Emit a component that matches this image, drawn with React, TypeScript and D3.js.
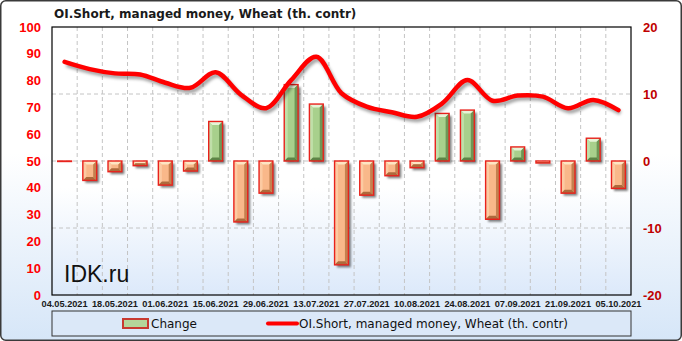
import React from 'react';
import * as d3 from 'd3';

const dates = [
  '04.05.2021', '11.05.2021', '18.05.2021', '25.05.2021', '01.06.2021', '08.06.2021',
  '15.06.2021', '22.06.2021', '29.06.2021', '06.07.2021', '13.07.2021', '20.07.2021',
  '27.07.2021', '03.08.2021', '10.08.2021', '17.08.2021', '24.08.2021', '31.08.2021',
  '07.09.2021', '14.09.2021', '21.09.2021', '28.09.2021', '05.10.2021',
];
const changeValues = [
  0, -2.9, -1.6, -0.7, -3.6, -1.5, 5.9, -9.1, -4.8, 11.4, 8.5, -15.5,
  -5.1, -2.2, -1.0, 7.1, 7.6, -8.7, 2.1, -0.3, -4.8, 3.4, -4.1,
];
const oiShort = [
  87.0, 84.3, 82.7, 82.3, 79.2, 77.3, 83.1, 74.8, 69.7, 80.2, 88.9, 75.3,
  70.3, 68.2, 66.5, 71.5, 80.2, 72.5, 74.4, 74.0, 69.7, 72.8, 69.0,
];
const leftTicks = [0, 10, 20, 30, 40, 50, 60, 70, 80, 90, 100];
const rightTicks = [-20, -10, 0, 10, 20];
const xLabels = dates.filter((_, i) => i % 2 === 0);
const title = 'OI.Short, managed money, Wheat (th. contr)';
const legendBar = 'Change';
const legendLine = 'OI.Short, managed money, Wheat (th. contr)';

const W = 682;
const H = 341;
const PL = 52, PR = 631, PT = 27, PB = 295;

export default function App() {
  const x = d3.scaleBand<string>().domain(dates).range([PL, PR]);
  const yL = d3.scaleLinear().domain([0, 100]).range([PB, PT]);
  const yR = d3.scaleLinear().domain([-20, 20]).range([PB, PT]);
  const bw = x.bandwidth() * 0.55;
  const cx = (d: string) => (x(d) as number) + x.bandwidth() / 2;

  const linePath = d3
    .line<number>()
    .x((_, i) => cx(dates[i]))
    .y((d) => yL(d))
    .curve(d3.curveCatmullRom.alpha(0.5))(oiShort) as string;

  const numFont = "'Liberation Sans', Arial, sans-serif";
  const txtFont = "'DejaVu Sans', Verdana, sans-serif";

  const bars = changeValues.map((v, i) => {
    const bx = cx(dates[i]) - bw / 2;
    const y0 = yR(0);
    const y1 = yR(v);
    const by = Math.min(y0, y1);
    const h = Math.abs(y1 - y0);
    const pos = v > 0;
    const s = Math.min(3.5, bw / 2, h / 2);
    const c = pos
      ? { base: '#a8d08c', top: '#e6f4d8', left: '#c0dfa9', right: '#6e9656', bottom: '#5d8446' }
      : { base: '#f9b88a', top: '#fde6c4', left: '#fccaa2', right: '#c4804f', bottom: '#ad6a3c' };
    const pts = (a: number[][]) => a.map((p) => p.join(',')).join(' ');
    return (
      <g key={i}>
        {h > 0.5 && (
          <rect x={bx + 2.5} y={by + 2.5} width={bw} height={h} fill="#000" opacity={0.5} filter="url(#blurS)" />
        )}
        <rect x={bx} y={by} width={bw} height={h} fill={c.base} />
        {h > 1 && (
          <g>
            <polygon points={pts([[bx, by], [bx + bw, by], [bx + bw - s, by + s], [bx + s, by + s]])} fill={c.top} />
            <polygon points={pts([[bx, by], [bx + s, by + s], [bx + s, by + h - s], [bx, by + h]])} fill={c.left} />
            <polygon points={pts([[bx + bw, by], [bx + bw, by + h], [bx + bw - s, by + h - s], [bx + bw - s, by + s]])} fill={c.right} />
            <polygon points={pts([[bx, by + h], [bx + s, by + h - s], [bx + bw - s, by + h - s], [bx + bw, by + h]])} fill={c.bottom} />
          </g>
        )}
        <rect x={bx} y={by} width={bw} height={Math.max(h, 0.5)} fill="none" stroke="#e8221c" strokeWidth={1.4} />
      </g>
    );
  });

  return (
    <svg
      width={W}
      height={H}
      style={{ position: 'absolute', left: 0, top: 0, display: 'block' }}
      xmlns="http://www.w3.org/2000/svg"
    >
      <defs>
        <linearGradient id="bgOuter" x1="0" y1="0" x2="0" y2="1">
          <stop offset="0" stopColor="#ffffff" />
          <stop offset="0.45" stopColor="#ffffff" />
          <stop offset="1" stopColor="#d6e6f8" />
        </linearGradient>
        <linearGradient id="bgPlot" x1="0" y1="0" x2="0" y2="1">
          <stop offset="0" stopColor="#ffffff" />
          <stop offset="0.6" stopColor="#ffffff" />
          <stop offset="1" stopColor="#dce9fa" />
        </linearGradient>
        <filter id="blurS" x="-50%" y="-50%" width="200%" height="200%">
          <feGaussianBlur stdDeviation="1.3" />
        </filter>
        <filter id="blurL" x="-10%" y="-30%" width="120%" height="160%">
          <feGaussianBlur stdDeviation="1.4" />
        </filter>
      </defs>

      <rect x={0.75} y={0.75} width={W - 1.5} height={H - 1.5} rx={5} fill="url(#bgOuter)" stroke="#3a3a3a" strokeWidth={1.5} />

      <text x={54} y={18} fontFamily={txtFont} fontWeight="bold" fontSize={12} fill="#1a1a1a">
        {title}
      </text>

      <rect x={PL} y={PT} width={PR - PL} height={PB - PT} fill="url(#bgPlot)" />

      {dates.slice(1).map((d) => (
        <line key={d} x1={x(d)} x2={x(d)} y1={PT} y2={PB} stroke="#c4c4c4" strokeDasharray="4,3" />
      ))}
      {rightTicks.slice(1, -1).map((t) => (
        <line key={t} x1={PL} x2={PR} y1={yR(t)} y2={yR(t)} stroke="#c4c4c4" strokeDasharray="4,3" />
      ))}

      <text x={64} y={282} fontFamily={numFont} fontSize={23} fill="#111">
        IDK.ru
      </text>

      {bars}

      <path d={linePath} fill="none" stroke="#000" strokeOpacity={0.35} strokeWidth={4.5} transform="translate(2,3)" filter="url(#blurL)" />
      <path d={linePath} fill="none" stroke="#ff0000" strokeWidth={4.5} strokeLinecap="round" strokeLinejoin="round" />

      <rect x={PL} y={PT} width={PR - PL} height={PB - PT} fill="none" stroke="#000" strokeWidth={1.2} />

      {leftTicks.map((t) => (
        <text key={t} x={41} y={yL(t)} dy="0.35em" textAnchor="end" fontFamily={numFont} fontWeight="bold" fontSize={13} fill="#ff0000">
          {t}
        </text>
      ))}
      {rightTicks.map((t) => (
        <text key={t} x={643} y={yR(t)} dy="0.35em" textAnchor="start" fontFamily={numFont} fontWeight="bold" fontSize={13} fill="#c00000">
          {t}
        </text>
      ))}
      {xLabels.map((d) => (
        <text key={d} x={cx(d)} y={307} textAnchor="middle" fontFamily={numFont} fontWeight="bold" fontSize={9.2} fill="#1a1a1a">
          {d}
        </text>
      ))}

      <rect x={PL} y={311} width={PR - PL} height={25} fill="#dbe8f8" stroke="#333" strokeWidth={1} />
      <rect x={123} y={319} width={25} height={9} fill="#b4d69a" stroke="#c83a30" strokeWidth={2} />
      <text x={151} y={328} fontFamily={txtFont} fontSize={12} fill="#111">
        {legendBar}
      </text>
      <line x1={268} x2={297} y1={323.5} y2={323.5} stroke="#ff0000" strokeWidth={4} strokeLinecap="round" />
      <text x={299} y={328} fontFamily={txtFont} fontSize={12} fill="#111">
        {legendLine}
      </text>
    </svg>
  );
}
